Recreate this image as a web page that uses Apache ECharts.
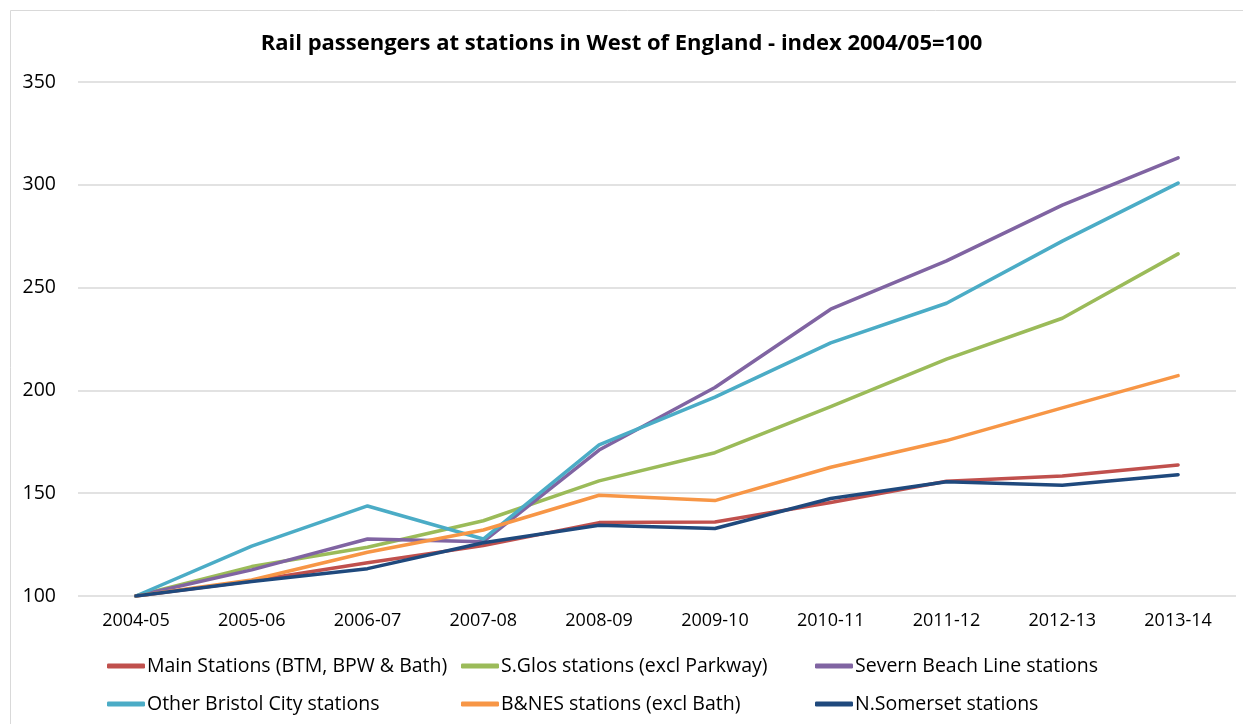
<!DOCTYPE html>
<html>
<head>
<meta charset="utf-8">
<script src="https://cdn.jsdelivr.net/npm/echarts@6/dist/echarts.min.js"></script>
<style>
  html, body { margin: 0; padding: 0; background: #fff; }
  #chart { width: 1243px; height: 724px; }
</style>
</head>
<body>
<div id="chart"></div>
<script>
// Financial years
const years = ['2004-05', '2005-06', '2006-07', '2007-08', '2008-09', '2009-10', '2010-11', '2011-12', '2012-13', '2013-14'];

// Passenger index per station group (2004/05 = 100)
const mainStations   = [100, 107.3, 116.2, 124.5, 135.7, 136.0, 145.5, 155.8, 158.4, 163.7];
const sGlos          = [100, 114.3, 123.7, 136.6, 156.0, 169.7, 192.1, 215.2, 235.1, 266.4];
const severnBeach    = [100, 112.7, 127.7, 126.4, 171.0, 201.4, 239.5, 263.0, 290.1, 313.1];
const otherBristol   = [100, 124.3, 143.8, 127.7, 173.5, 196.7, 223.1, 242.4, 272.6, 300.8];
const bnes           = [100, 107.8, 121.3, 132.1, 149.0, 146.4, 162.6, 175.6, 191.5, 207.2];
const nSomerset      = [100, 107.0, 113.3, 125.9, 134.4, 132.8, 147.4, 155.6, 153.9, 159.0];

// Axis ticks
const yMin = 100, yMax = 350, yStep = 50;

const names = [
  'Main Stations (BTM, BPW & Bath)',
  'S.Glos stations (excl Parkway)',
  'Severn Beach Line stations',
  'Other Bristol City stations',
  'B&NES stations (excl Bath)',
  'N.Somerset stations'
];
const colors = ['#c0504d', '#9bbb59', '#8064a2', '#4bacc6', '#f79646', '#1f497d'];
const values = [mainStations, sGlos, severnBeach, otherBristol, bnes, nSomerset];

const FONT = '"Open Sans", Lato, sans-serif';

const chart = echarts.init(document.getElementById('chart'), null, { renderer: 'canvas' });

// One vertical legend per column, two entries each
function legendCol(left, items) {
  return {
    orient: 'vertical',
    left: left,
    top: 655,
    padding: 0,
    itemGap: 16,
    itemWidth: 38,
    itemHeight: 5,
    icon: 'roundRect',
    data: items,
    textStyle: { fontFamily: FONT, fontSize: 19.5, lineHeight: 22, color: '#000', padding: [0, 0, 0, -3] }
  };
}

chart.setOption({
  animation: false,
  backgroundColor: '#fff',
  graphic: [{
    type: 'rect',
    shape: { x: 10.5, y: 10.5, width: 1300, height: 800 },
    style: { fill: 'none', stroke: '#d9d9d9', lineWidth: 1 },
    silent: true
  }],
  title: {
    text: 'Rail passengers at stations in West of England - index 2004/05=100',
    left: 'center',
    top: 28,
    textStyle: { fontFamily: FONT, fontSize: 22, fontWeight: 'bold', color: '#000' }
  },
  legend: [
    legendCol(107, [names[0], names[3]]),
    legendCol(461, [names[1], names[4]]),
    legendCol(815, [names[2], names[5]])
  ],
  grid: { left: 78, right: 7, top: 82, bottom: 128, containLabel: false },
  xAxis: {
    type: 'category',
    data: years,
    boundaryGap: true,
    axisLine: { show: false },
    axisTick: { show: false },
    axisLabel: { fontFamily: FONT, fontSize: 18, color: '#000', margin: 16 }
  },
  yAxis: {
    type: 'value',
    min: yMin,
    max: yMax,
    interval: yStep,
    axisLine: { show: false },
    axisTick: { show: false },
    axisLabel: { fontFamily: FONT, fontSize: 19.5, color: '#000', margin: 22 },
    splitLine: { lineStyle: { color: '#d9d9d9', width: 1.5 } }
  },
  series: names.map((n, i) => ({
    name: n,
    type: 'line',
    data: values[i],
    symbol: 'none',
    color: colors[i],
    lineStyle: { width: 3.5, color: colors[i], cap: 'round', join: 'round' }
  }))
});
</script>
</body>
</html>
